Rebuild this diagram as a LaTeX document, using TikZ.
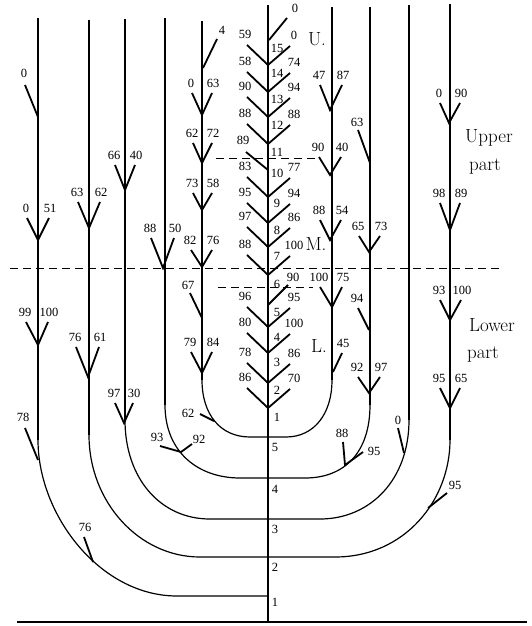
\documentclass[tikz,border=0pt]{standalone}
\usepackage{fontspec}
\newfontfamily\numfont{Liberation Serif}
\tikzset{
  ax/.style={line width=1.5pt},
  br/.style={line width=1.8pt},
  cv/.style={line width=1.2pt},
  dsh/.style={line width=1pt, dash pattern=on 8pt off 5pt},
  num/.style={font=\numfont\fontsize{12.5}{12.5}\selectfont, inner sep=0pt},
  axn/.style={font=\numfont\fontsize{12.5}{12.5}\selectfont, inner sep=0pt},
  big/.style={font=\fontsize{19}{19}\selectfont, inner sep=0pt},
  lbl/.style={font=\fontsize{19}{19}\selectfont, inner sep=0pt}
}
% V junction: name, xj, yj, x left top, x right top, y top, left text, right text
\newcommand\VJ[8]{%
  \coordinate (#1) at (#2,#3);
  \coordinate (#1l) at (#4,#6);
  \coordinate (#1r) at (#5,#6);
  \draw[br] (#1l) -- (#1) -- (#1r);
  \node[num] (#1lt) at (#4-1,#6-10) {#7};
  \node[num] (#1rt) at (#5+1,#6-10) {#8};
}
% single branch: name, x top, y top, x end, y end, text, label x, label y
\newcommand\SB[8]{%
  \coordinate (#1a) at (#2,#3);
  \coordinate (#1b) at (#4,#5);
  \draw[br] (#1a) -- (#1b);
  \node[num] (#1t) at (#7,#8) {#6};
}
% centre pair: name, yj, left text, right text
\newcommand\CJ[4]{%
  \coordinate (#1) at (268,#2);
  \coordinate (#1l) at (247,#2-20);
  \coordinate (#1r) at (290,#2-19);
  \draw[br] (#1l) -- (#1) -- (#1r);
  \node[num] (#1lt) at (245,#2-31) {#3};
  \node[num] (#1rt) at (294,#2-30) {#4};
}
\begin{document}
\begin{tikzpicture}[x=1pt,y=-1pt]
\useasboundingbox (0,0) rectangle (532,626);

% ---------- central axis ----------
\coordinate (ctop) at (268,5);
\coordinate (cbot) at (268,622);
\draw[ax] (ctop) -- (cbot);
\coordinate (bl) at (17,622);
\coordinate (brr) at (527,622);
\draw[line width=1.2pt] (bl) -- (brr);

% ---------- dashed lines ----------
\coordinate (d1a) at (10,268); \coordinate (d1b) at (502,268);
\draw[dsh] (d1a) -- (d1b);
\coordinate (d2a) at (216,158); \coordinate (d2b) at (317,158);
\draw[dsh] (d2a) -- (d2b);
\coordinate (d3a) at (218,287); \coordinate (d3b) at (313,287);
\draw[dsh] (d3a) -- (d3b);

% ---------- columns and loops ----------
\coordinate (A0) at (38,18);  \coordinate (A1) at (38,440);  \coordinate (H5) at (177,596); \coordinate (X5) at (268,596);
\draw[ax] (A0) -- (A1);
\draw[cv] (A1) .. controls (38,515) and (100,596) .. (H5) -- (X5);

\coordinate (B0) at (89,20);  \coordinate (B1) at (89,435);  \coordinate (H4l) at (200,557); \coordinate (X4) at (268,557);
\draw[ax] (B0) -- (B1);
\draw[cv] (B1) .. controls (89,502) and (139,557) .. (H4l) -- (X4);
\coordinate (I0) at (450,4);  \coordinate (I1) at (450,440); \coordinate (H4r) at (335,557);
\draw[ax] (I0) -- (I1);
\draw[cv] (I1) .. controls (450,500) and (405,557) .. (H4r) -- (X4);

\coordinate (C0) at (125,19); \coordinate (C1) at (125,420); \coordinate (H3l) at (210,519); \coordinate (X3) at (268,519);
\draw[ax] (C0) -- (C1);
\draw[cv] (C1) .. controls (125,478) and (160,519) .. (H3l) -- (X3);
\coordinate (H0) at (409,5);  \coordinate (H1) at (409,420); \coordinate (H3r) at (320,519);
\draw[ax] (H0) -- (H1);
\draw[cv] (H1) .. controls (409,480) and (370,519) .. (H3r) -- (X3);

\coordinate (D0) at (165,18); \coordinate (D1) at (165,405); \coordinate (H2l) at (240,478); \coordinate (X2) at (268,478);
\draw[ax] (D0) -- (D1);
\draw[cv] (D1) .. controls (165,452) and (198,478) .. (H2l) -- (X2);
\coordinate (G0) at (370,7);  \coordinate (G1) at (370,405); \coordinate (H2r) at (305,478);
\draw[ax] (G0) -- (G1);
\draw[cv] (G1) .. controls (370,452) and (345,478) .. (H2r) -- (X2);

\coordinate (E0) at (202,21); \coordinate (E1) at (202,380); \coordinate (H1l) at (250,437); \coordinate (X1) at (268,437);
\draw[ax] (E0) -- (E1);
\draw[cv] (E1) .. controls (202,414) and (220,437) .. (H1l) -- (X1);
\coordinate (F0) at (332,7);  \coordinate (F1) at (332,380); \coordinate (H1r) at (286,437);
\draw[ax] (F0) -- (F1);
\draw[cv] (F1) .. controls (332,414) and (314,437) .. (H1r) -- (X1);

% ---------- central tree ----------
\SB{ct}{287}{18}{269}{40}{0}{295}{8}
\CJ{c15}{65}{59}{0}
\CJ{c14}{92}{58}{74}
\CJ{c13}{117}{90}{94}
\CJ{c12}{144}{88}{88}
\SB{c11}{246}{152}{268}{170}{89}{243}{140}
\CJ{c10}{197}{83}{77}
\CJ{c9}{223}{95}{94}
\CJ{c8}{247}{97}{86}
\CJ{c7}{275}{88}{100}
\SB{c6}{288}{285}{268}{305}{90}{293}{277}
\CJ{c5}{327}{96}{95}
\CJ{c4}{353}{80}{100}
\CJ{c3}{383}{78}{86}
\CJ{c2}{408}{86}{70}

% internode numbers
\foreach \t/\yy [count=\i] in {15/48,14/73,13/99,12/125,11/152,10/173,9/203,8/230,7/256,6/284,5/312,4/337,3/362,2/390,1/417}
  \node[axn] (in\i) at (277,\yy) {\t};
\foreach \t/\yy [count=\i] in {5/447,4/489,3/529,2/567,1/602}
  \node[axn] (lo\i) at (275,\yy) {\t};

% ---------- column A ----------
\SB{a1}{25}{85}{38}{117}{0}{24}{73}
\VJ{a2}{38}{240}{27}{49}{218}{0}{51}
\VJ{a3}{38}{345}{26}{48}{322}{99}{100}
\SB{a4}{25}{428}{38}{460}{78}{23}{417}
\SB{a5}{84}{537}{93}{562}{76}{85}{527}

% ---------- column B ----------
\VJ{b1}{89}{228}{78}{100}{202}{63}{62}
\VJ{b2}{88}{377}{76}{99}{347}{76}{61}

% ---------- column C ----------
\VJ{k1}{125}{190}{115}{135}{165}{66}{40}
\VJ{k2}{124}{423}{115}{133}{403}{97}{30}

% ---------- column D ----------
\VJ{d1}{163}{268}{151}{174}{238}{88}{50}
\coordinate (dv) at (181,452);
\coordinate (dvl) at (160,446); \coordinate (dvr) at (192,444);
\draw[br] (dvl) -- (dv) -- (dvr);
\node[num] (dvlt) at (157,437) {93};
\node[num] (dvrt) at (199,439) {92};

% ---------- column E ----------
\SB{e0}{217}{39}{203}{68}{4}{222}{30}
\VJ{e1}{202}{115}{192}{212}{93}{0}{63}
\VJ{e2}{202}{163}{193}{212}{143}{62}{72}
\VJ{e3}{202}{210}{193}{212}{193}{73}{58}
\VJ{e4}{202}{267}{191}{212}{250}{82}{76}
\SB{e5}{190}{293}{202}{318}{67}{188}{285}
\VJ{e6}{202}{373}{191}{212}{352}{79}{84}
\SB{e7}{200}{414}{214}{421}{62}{188}{413}

% ---------- column F ----------
\VJ{f1}{330}{110}{320}{342}{85}{47}{87}
\VJ{f2}{330}{175}{319}{341}{157}{90}{40}
\VJ{f3}{330}{240}{320}{341}{220}{88}{54}
\VJ{f4}{332}{307}{320}{342}{287}{100}{75}
\SB{f5}{342}{353}{333}{372}{45}{343}{343}

% ---------- column G ----------
\SB{g1}{358}{130}{370}{163}{63}{357}{122}
\VJ{g2}{369}{252}{359}{380}{236}{65}{73}
\SB{g3}{358}{308}{369}{330}{94}{357}{298}
\VJ{g4}{369}{393}{358}{380}{377}{92}{97}
\coordinate (gv) at (345,465);
\coordinate (gvl) at (343,442); \coordinate (gvr) at (363,452);
\draw[br] (gvl) -- (gv) -- (gvr);
\node[num] (gvlt) at (342,433) {88};
\node[num] (gvrt) at (374,451) {95};

% ---------- column H ----------
\SB{h1}{398}{428}{404}{453}{0}{398}{420}

% ---------- column I ----------
\VJ{i1}{449}{123}{440}{460}{103}{0}{90}
\VJ{i2}{450}{230}{440}{460}{203}{98}{89}
\VJ{i3}{450}{320}{440}{461}{300}{93}{100}
\VJ{i4}{450}{408}{440}{460}{388}{95}{65}
\SB{i5}{447}{493}{428}{508}{95}{455}{485}

% ---------- region labels ----------
\node[big] (U) at (317,39) {U.};
\node[big] (M) at (316,244) {M.};
\node[big] (L) at (319,346) {L.};
\node[lbl] (up1) at (489,138) {Upper};
\node[lbl] (up2) at (485,167) {part};
\node[lbl] (lp1) at (492,325) {Lower};
\node[lbl] (lp2) at (483,355) {part};
\end{tikzpicture}
\end{document}
